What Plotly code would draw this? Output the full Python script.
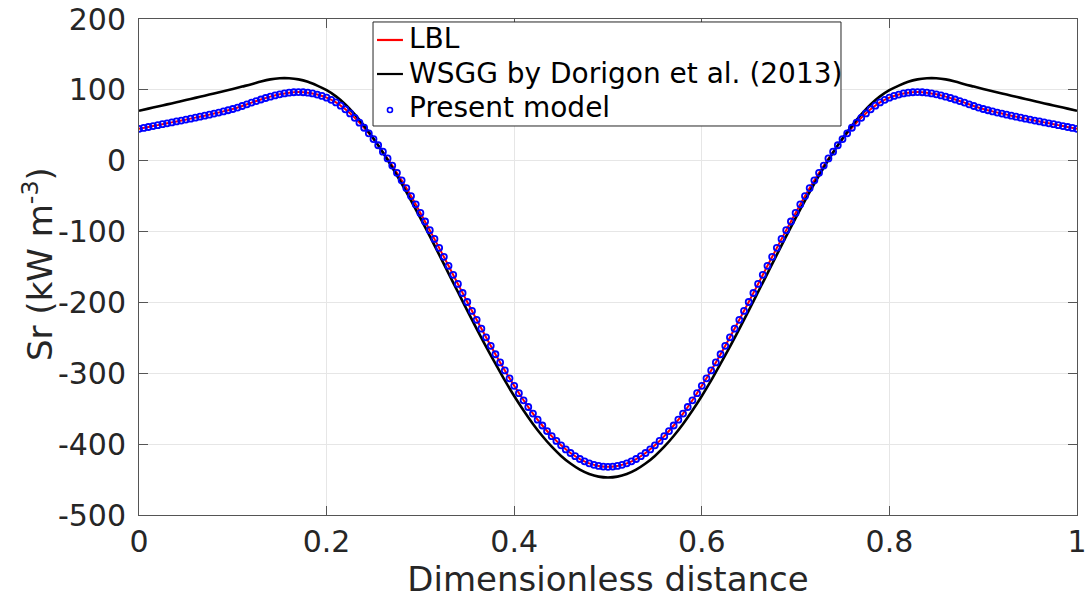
import plotly.graph_objects as go

# Abscissae: coarse grid for the two reference curves, fine grid for the model points
distance_coarse = [i / 100 for i in range(101)]
distance_fine = [i / 200 for i in range(201)]

# Radiative source term Sr (kW m^-3)
lbl = [
    45.0, 47.6, 50.2, 52.8, 55.4, 58.0, 60.8, 63.6, 66.5, 69.6,
    73.0, 77.2, 82.0, 86.4, 90.4, 93.7, 96.0, 96.8, 96.0, 93.4,
    89.0, 82.2, 72.5, 60.5, 46.5, 30.5, 12.7, -6.8, -27.7, -49.9,
    -73.7, -98.0, -123.0, -148.3, -173.9, -199.4, -224.5, -249.2, -273.1, -296.0,
    -317.7, -338.1, -356.8, -373.7, -388.7, -401.7, -412.5, -421.0, -427.1, -430.8,
    -432.0,
    -430.8, -427.1, -421.0, -412.5, -401.7, -388.7, -373.7, -356.8, -338.1, -317.7,
    -296.0, -273.1, -249.2, -224.5, -199.4, -173.9, -148.3, -123.0, -98.0, -73.7,
    -49.9, -27.7, -6.8, 12.7, 30.5, 46.5, 60.5, 72.5, 82.2, 89.0,
    93.4, 96.0, 96.8, 96.0, 93.7, 90.4, 86.4, 82.0, 77.2, 73.0,
    69.6, 66.5, 63.6, 60.8, 58.0, 55.4, 52.8, 50.2, 47.6, 45.0,
]

wsgg_dorigon = [
    70.5, 73.5, 76.5, 79.5, 82.5, 85.6, 88.7, 91.8, 94.9, 98.0,
    101.2, 104.6, 108.0, 111.8, 114.8, 116.3, 116.3, 114.8, 111.4, 106.0,
    99.5, 90.8, 79.4, 65.3, 49.2, 31.2, 11.5, -9.8, -32.4, -56.2,
    -81.0, -106.5, -132.5, -158.9, -185.3, -211.5, -237.2, -262.3, -286.4, -310.1,
    -332.1, -352.6, -371.5, -388.5, -403.6, -416.6, -427.4, -435.9, -442.1, -445.8,
    -447.0,
    -445.8, -442.1, -435.9, -427.4, -416.6, -403.6, -388.5, -371.5, -352.6, -332.1,
    -310.1, -286.4, -262.3, -237.2, -211.5, -185.3, -158.9, -132.5, -106.5, -81.0,
    -56.2, -32.4, -9.8, 11.5, 31.2, 49.2, 65.3, 79.4, 90.8, 99.5,
    106.0, 111.4, 114.8, 116.3, 116.3, 114.8, 111.8, 108.0, 104.6, 101.2,
    98.0, 94.9, 91.8, 88.7, 85.6, 82.5, 79.5, 76.5, 73.5, 70.5,
]

present_model = [
    45.0, 46.3, 47.6, 48.9, 50.2, 51.5, 52.8, 54.1, 55.4, 56.7,
    58.0, 59.4, 60.8, 62.2, 63.6, 65.0, 66.5, 68.0, 69.6, 71.2,
    73.0, 75.0, 77.2, 79.6, 82.0, 84.2, 86.4, 88.5, 90.4, 92.2,
    93.7, 95.0, 96.0, 96.6, 96.8, 96.6, 96.0, 94.9, 93.4, 91.4,
    89.0, 86.0, 82.2, 77.7, 72.5, 66.7, 60.5, 53.7, 46.5, 38.7,
    30.5, 21.8, 12.7, 3.2, -6.8, -17.1, -27.7, -38.6, -49.9, -61.5,
    -73.7, -85.8, -98.0, -110.4, -123.0, -135.6, -148.3, -161.1, -173.9, -186.7,
    -199.4, -212.0, -224.5, -237.0, -249.2, -261.3, -273.1, -284.7, -296.0, -307.1,
    -317.7, -328.1, -338.1, -347.6, -356.8, -365.5, -373.7, -381.5, -388.7, -395.5,
    -401.7, -407.4, -412.5, -417.0, -421.0, -424.3, -427.1, -429.2, -430.8, -431.7,
    -432.0,
    -431.7, -430.8, -429.2, -427.1, -424.3, -421.0, -417.0, -412.5, -407.4, -401.7,
    -395.5, -388.7, -381.5, -373.7, -365.5, -356.8, -347.6, -338.1, -328.1, -317.7,
    -307.1, -296.0, -284.7, -273.1, -261.3, -249.2, -237.0, -224.5, -212.0, -199.4,
    -186.7, -173.9, -161.1, -148.3, -135.6, -123.0, -110.4, -98.0, -85.8, -73.7,
    -61.5, -49.9, -38.6, -27.7, -17.1, -6.8, 3.2, 12.7, 21.8, 30.5,
    38.7, 46.5, 53.7, 60.5, 66.7, 72.5, 77.7, 82.2, 86.0, 89.0,
    91.4, 93.4, 94.9, 96.0, 96.6, 96.8, 96.6, 96.0, 95.0, 93.7,
    92.2, 90.4, 88.5, 86.4, 84.2, 82.0, 79.6, 77.2, 75.0, 73.0,
    71.2, 69.6, 68.0, 66.5, 65.0, 63.6, 62.2, 60.8, 59.4, 58.0,
    56.7, 55.4, 54.1, 52.8, 51.5, 50.2, 48.9, 47.6, 46.3, 45.0,
]

x_ticks = [0, 0.2, 0.4, 0.6, 0.8, 1]
x_tick_text = ["0", "0.2", "0.4", "0.6", "0.8", "1"]
y_ticks = [-500, -400, -300, -200, -100, 0, 100, 200]
y_tick_text = ["-500", "-400", "-300", "-200", "-100", "0", "100", "200"]

series_names = ["LBL", "WSGG by Dorigon et al. (2013)", "Present model"]
series_colors = ["#ff0000", "#000000", "#0000ff"]

FONT = "DejaVu Sans"
INK = "#262626"

fig = go.Figure()
fig.add_trace(go.Scatter(
    x=distance_coarse, y=lbl, name=series_names[0], mode="lines",
    line=dict(color=series_colors[0], width=2, shape="spline"),
))
fig.add_trace(go.Scatter(
    x=distance_coarse, y=wsgg_dorigon, name=series_names[1], mode="lines",
    line=dict(color=series_colors[1], width=2.6, shape="spline"),
))
fig.add_trace(go.Scatter(
    x=distance_fine, y=present_model, name=series_names[2], mode="markers",
    marker=dict(symbol="circle-open", size=6, color=series_colors[2],
                line=dict(width=1.8, color=series_colors[2])),
))

axis_common = dict(
    showline=True, linecolor="#555555", linewidth=1, mirror="ticks",
    ticks="inside", ticklen=9, tickwidth=1, tickcolor="#555555",
    showgrid=True, gridcolor="#e6e6e6", gridwidth=1, zeroline=False,
    automargin=False,
    tickfont=dict(family=FONT, size=30, color=INK),
)

fig.update_xaxes(
    range=[0, 1], tickvals=x_ticks, ticktext=x_tick_text,
    title=dict(text="Dimensionless distance", font=dict(family=FONT, size=34, color=INK), standoff=4),
    **axis_common,
)
fig.update_yaxes(
    range=[-500, 200], tickvals=y_ticks, ticktext=y_tick_text,
    ticklabelstandoff=6,
    **axis_common,
)

# Y axis label (rotated)
fig.add_annotation(
    text="Sr (kW m<sup>-3</sup>)", xref="paper", yref="paper",
    x=-0.1077, y=0.506, xanchor="center", yanchor="middle",
    textangle=-90, showarrow=False,
    font=dict(family=FONT, size=34, color=INK),
)

# Legend box drawn in paper coordinates
leg_x0, leg_x1 = 0.2495, 0.7484
leg_y0, leg_y1 = 0.7843, 0.994
row_y = [0.9577, 0.8891, 0.8205]
glyph_x0, glyph_x1 = 0.2537, 0.2814
text_x = 0.2857

fig.add_shape(type="rect", xref="paper", yref="paper",
              x0=leg_x0, x1=leg_x1, y0=leg_y0, y1=leg_y1,
              line=dict(color=INK, width=1), fillcolor="white", layer="above")
for i in range(2):
    fig.add_shape(type="line", xref="paper", yref="paper",
                  x0=glyph_x0, x1=glyph_x1, y0=row_y[i], y1=row_y[i],
                  line=dict(color=series_colors[i], width=2.2), layer="above")
fig.add_shape(type="circle", xref="paper", yref="paper",
              xsizemode="pixel", ysizemode="pixel",
              xanchor=(glyph_x0 + glyph_x1) / 2, yanchor=row_y[2] - 0.004,
              x0=-2.5, x1=2.5, y0=-2.5, y1=2.5,
              line=dict(color=series_colors[2], width=1.6), layer="above")
for i, name in enumerate(series_names):
    fig.add_annotation(
        text=name, xref="paper", yref="paper", x=text_x, y=row_y[i] + 0.002,
        xanchor="left", yanchor="middle", showarrow=False,
        font=dict(family=FONT, size=28, color="#000000"),
    )

fig.update_layout(
    width=1089, height=603,
    margin=dict(l=139, r=12, t=19, b=88, autoexpand=False),
    paper_bgcolor="white", plot_bgcolor="white",
    font=dict(family=FONT, color=INK),
    showlegend=False,
)

fig.write_html("out.html")
